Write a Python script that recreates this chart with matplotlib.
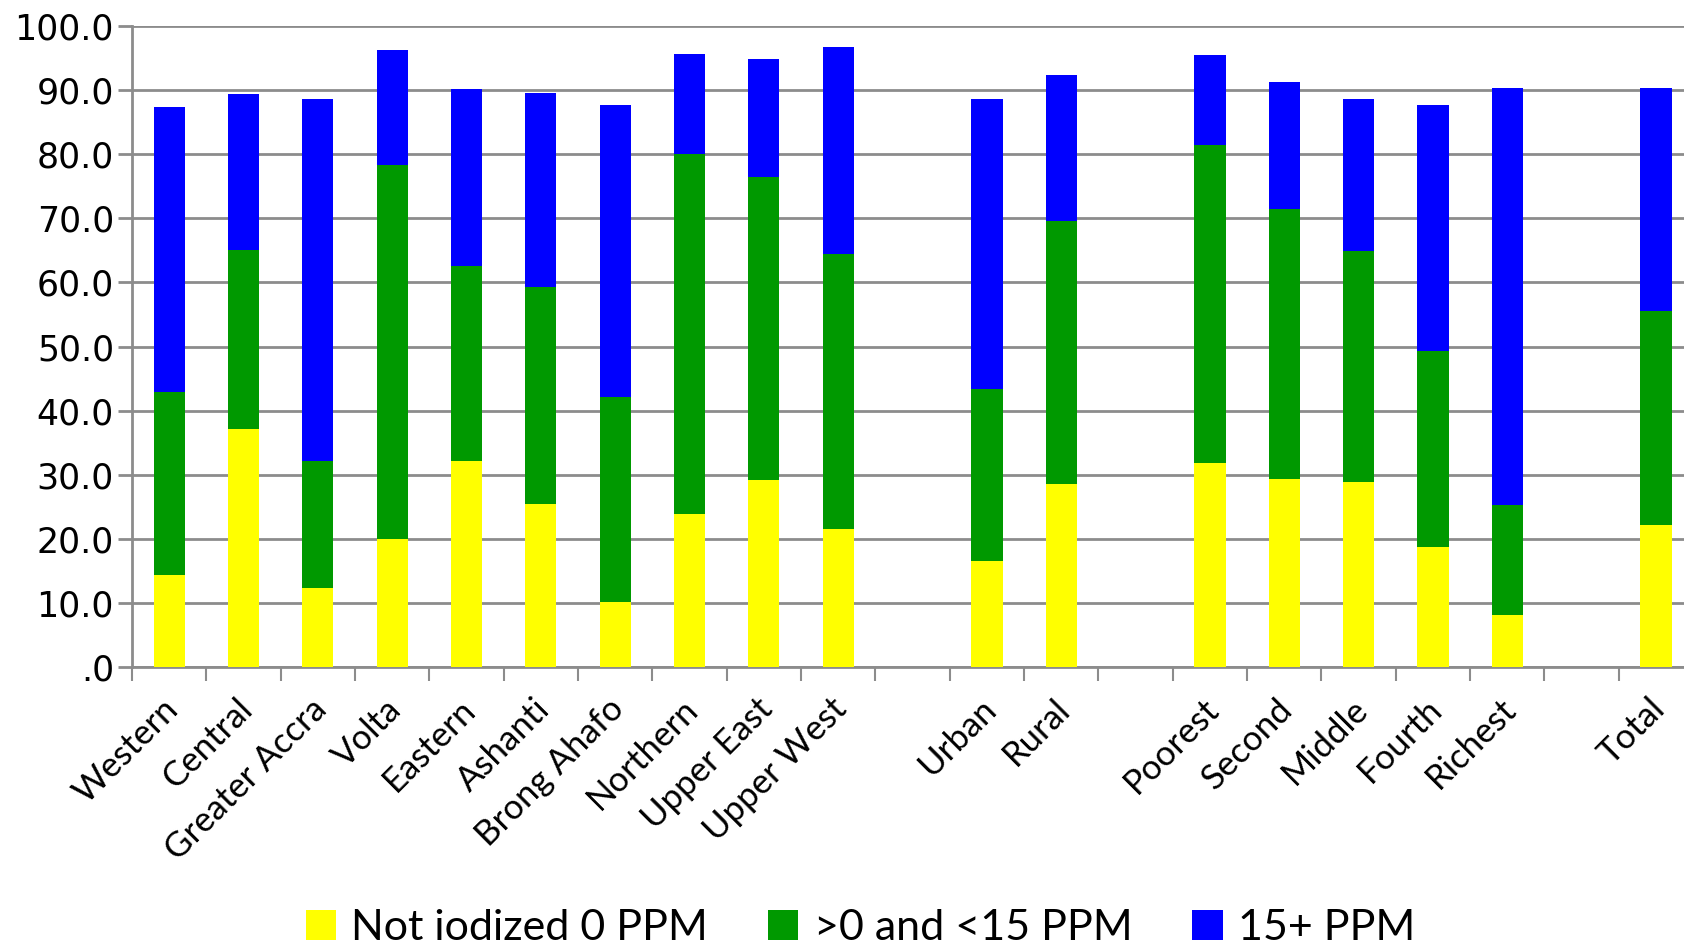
import numpy as np
import matplotlib
matplotlib.use("Agg")
import matplotlib.pyplot as plt

# '' marks an empty slot between groups
categories = ["Western", "Central", "Greater Accra", "Volta", "Eastern", "Ashanti",
              "Brong Ahafo", "Northern", "Upper East", "Upper West", "",
              "Urban", "Rural", "",
              "Poorest", "Second", "Middle", "Fourth", "Richest", "",
              "Total"]

not_iodized = [14.4, 37.2, 12.4, 19.9, 32.2, 25.5, 10.1, 23.8, 29.1, 21.6,
               16.6, 28.6,
               31.8, 29.4, 28.8, 18.7, 8.1,
               22.1]
low_ppm = [28.5, 27.8, 19.8, 58.4, 30.4, 33.8, 32.1, 56.3, 47.3, 42.8,
           26.7, 41.0,
           49.6, 42.1, 36.1, 30.6, 17.2,
           33.4]
high_ppm = [44.4, 24.4, 56.4, 17.9, 27.5, 30.3, 45.5, 15.6, 18.4, 32.4,
            45.3, 22.7,
            14.1, 19.8, 23.7, 38.4, 65.1,
            34.8]

series_names = ["Not iodized 0 PPM", ">0 and <15 PPM", "15+ PPM"]
colors = ["#FFFF00", "#009900", "#0000FF"]

pos = np.array([i for i, c in enumerate(categories) if c != ""])
y1 = np.array(not_iodized)
y2 = np.array(low_ppm)
y3 = np.array(high_ppm)

fig = plt.figure(figsize=(16.84, 9.43), dpi=100)
ax = fig.add_axes([0.0784, 0.2927, 0.927, 0.6797])

w = 0.42
ax.bar(pos, y1, w, color=colors[0], label=series_names[0], zorder=3)
ax.bar(pos, y2, w, bottom=y1, color=colors[1], label=series_names[1], zorder=3)
ax.bar(pos, y3, w, bottom=y1 + y2, color=colors[2], label=series_names[2], zorder=3)

gc = "#8c8c8c"
ax.set_ylim(0, 100)
ax.set_xlim(-0.5, len(categories) - 0.5)
ax.set_yticks(np.arange(0, 101, 10))
ax.set_yticklabels([".0"] + ["%.1f" % v for v in range(10, 101, 10)],
                   fontsize=25, family="DejaVu Sans")
ax.yaxis.grid(True, color=gc, linewidth=2, zorder=0)
ax.tick_params(axis="y", length=10, width=2, color=gc, pad=3)

ax.set_xticks(np.arange(-0.5, len(categories), 1.0))
ax.set_xticklabels([])
ax.tick_params(axis="x", length=10, width=1.5, color=gc, direction="out")
for p, c in enumerate(categories):
    if c:
        ax.text(p + 0.05, -5.8, c, rotation=45, ha="right", va="center",
                rotation_mode="anchor", fontsize=25, family="Lato")

for s in ["top", "right"]:
    ax.spines[s].set_visible(False)
for s in ["left", "bottom"]:
    ax.spines[s].set_color(gc)
    ax.spines[s].set_linewidth(2)

fig.legend(loc="center", bbox_to_anchor=(0.511, 0.016), ncol=3, frameon=False,
           prop={"family": "Lato", "size": 31}, handlelength=0.7,
           handleheight=0.7, handletextpad=0.35, columnspacing=1.4)

fig.savefig("out.png", dpi=100)
